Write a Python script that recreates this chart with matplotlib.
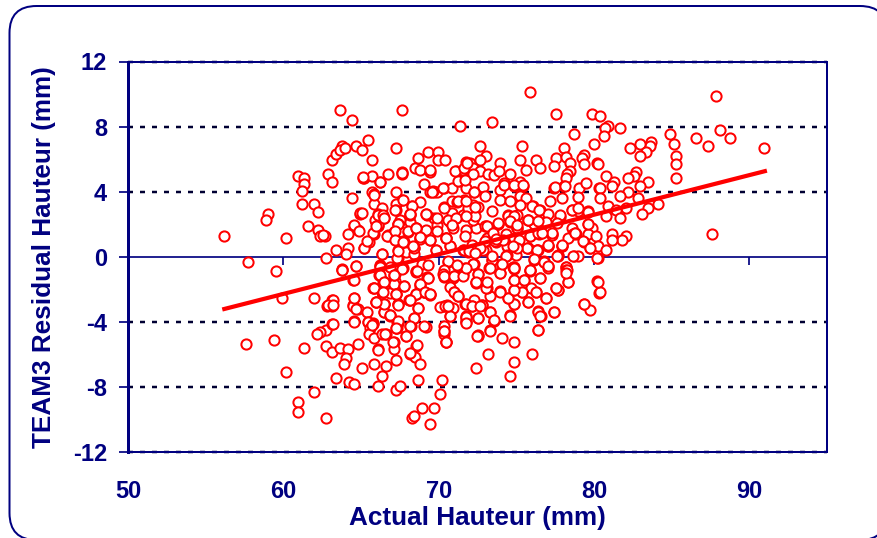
import matplotlib
matplotlib.use("Agg")
import matplotlib.pyplot as plt
from matplotlib.patches import FancyBboxPatch

plt.rcParams["axes.unicode_minus"] = False

# points, (actual hauteur, residual), grouped by area
left_tail = [
    (56.2, 1.29), (57.75, -0.33), (59.03, 2.64), (58.88, 2.27), (60.17, 1.17), (59.5, -0.9),
    (60.97, 4.97), (61.33, 4.85), (61.33, 4.48), (61.2, 4.07), (61.2, 3.25), (61.97, 3.25),
    (62.25, 2.76), (61.59, 1.9), (62.25, 1.66), (62.36, 1.29), (62.68, 1.29), (63.39, 0.43),
    (62.75, -0.06), (64.16, 0.55), (64.03, 0.18), (63.78, -0.76), (64.68, -0.55), (62.88, 5.09),
    (63.13, 4.6), (63.13, 5.95), (63.39, 6.32), (63.78, 6.81), (63.65, 6.56), (63.97, 6.69),
    (63.65, 9.02), (64.42, 8.4), (65.45, 7.18), (64.68, 6.81), (65.06, 6.56), (65.71, 5.95),
    (59.91, -2.56), (61.97, -2.52), (63.13, -2.66), (62.83, -3.03), (63.13, -3.03),
    (62.75, -4.48), (62.36, -4.6), (62.15, -4.72), (63.13, -4.11), (57.6, -5.38), (59.4, -5.09),
    (61.33, -5.58), (60.17, -7.07), (61.97, -8.3), (60.97, -8.94), (60.97, -9.55), (62.75, -9.92),
]
upper_mid = [
    (67.25, 6.69), (67.64, 9.02), (64.42, 3.62), (64.94, 2.64), (64.55, 1.9), (64.83, 1.66),
    (64.16, 1.41), (65.84, 1.41), (65.45, 0.92), (65.19, 0.55), (66.35, 0.18), (65.1, 4.85),
    (65.2, 4.85), (65.71, 4.97), (66.22, 4.6), (66.74, 5.09), (65.71, 3.99), (65.84, 3.87),
    (65.84, 3.25), (66.35, 3.0), (66.1, 2.64), (66.48, 2.39), (65.97, 2.15), (66.1, 1.9),
    (66.74, 1.29), (67.25, 3.99), (67.64, 3.5), (67.25, 3.25), (67.25, 2.88), (68.28, 3.13),
    (68.8, 3.37), (69.06, 4.48), (69.45, 3.99), (69.7, 3.99), (69.87, 3.99), (68.48, 5.46),
    (68.8, 5.34), (69.45, 5.21), (68.69, 6.07), (69.31, 6.44), (69.96, 6.44), (69.96, 5.95),
    (67.64, 5.21), (67.64, 5.1), (68.15, 2.64), (69.18, 2.64), (69.7, 2.39), (67.51, 2.27),
    (67.38, 2.02), (68.15, 2.15), (67.12, 1.53), (68.03, 1.53), (68.56, 1.78), (69.18, 1.66),
    (68.8, 1.17), (69.45, 1.04), (67.25, 1.04), (67.77, 0.92), (67.38, 0.43), (68.41, 0.55),
    (67.38, -0.06), (67.9, 0.31), (68.41, 0.18), (69.83, 0.43), (70.41, 5.96), (69.44, 5.34),
    (71.09, 5.24), (70.34, 4.22), (70.88, 4.22), (71.37, 4.63), (70.34, 3.03), (70.84, 3.4),
    (71.16, 3.34), (69.66, 4.07), (64.57, 1.93), (64.89, 1.6), (65.9, 2.27), (66.12, 1.97),
    (66.76, 1.35), (67.4, 2.01), (68.05, 1.56), (68.54, 1.76), (69.87, 1.97), (70.73, 2.17),
    (66.12, 2.58), (69.23, 2.58), (62.57, 1.35), (65.54, 0.9), (65.79, 1.45), (67.72, 0.94),
    (68.8, 1.1), (69.44, 1.05), (70.47, 1.15), (70.73, 0.64), (68.41, 0.53),
]
upper_right = [
    (73.42, 8.31), (77.54, 8.78), (79.9, 8.78), (80.39, 8.68), (78.72, 7.55), (80.01, 6.94),
    (72.67, 6.82), (75.35, 6.82), (78.08, 6.67), (73.05, 6.2), (71.77, 5.85), (72.02, 5.75),
    (72.67, 5.96), (73.95, 5.75), (75.24, 5.96), (76.27, 5.96), (77.56, 6.06), (78.2, 6.16),
    (79.36, 6.26), (79.21, 6.06), (80.18, 5.75), (79.36, 5.71), (78.46, 5.75), (77.43, 5.59),
    (76.53, 5.45), (75.63, 5.34), (71.59, 5.34), (72.2, 5.45), (72.67, 5.24), (72.2, 5.1),
    (73.2, 5.1), (73.57, 5.04), (73.91, 5.24), (74.6, 5.1), (78.46, 5.24), (78.29, 5.1),
    (78.2, 4.83), (74.21, 4.52), (74.86, 4.36), (75.24, 4.57), (75.46, 4.36), (71.77, 4.22),
    (72.28, 4.01), (72.84, 4.28), (73.95, 4.11), (77.43, 4.22), (78.07, 4.36), (79.06, 4.22),
    (79.49, 4.52), (80.35, 4.22), (72.99, 3.71), (73.95, 3.5), (74.6, 3.4), (75.24, 3.71),
    (75.63, 3.6), (77.93, 3.6), (79.0, 3.66), (77.17, 3.4), (76.06, 3.09), (76.53, 2.89),
    (77.07, 2.64), (72.56, 3.05), (71.92, 2.89), (73.42, 2.79), (74.49, 2.54), (75.03, 2.58),
    (77.82, 2.44), (78.57, 2.85), (79.0, 2.79), (79.64, 2.79), (75.24, 3.2), (71.64, 3.5),
    (72.24, 3.2), (75.88, 10.14), (71.38, 8.04), (80.91, 8.04), (80.71, 7.89), (81.68, 7.91),
    (80.65, 7.42), (84.9, 7.55), (85.15, 6.93), (86.57, 7.3), (88.12, 7.79), (88.76, 7.3),
    (87.34, 6.81), (90.95, 6.69), (87.84, 9.88), (83.65, 7.06), (83.61, 6.81), (82.97, 6.93),
    (82.32, 6.69), (83.35, 6.44), (82.97, 6.2), (85.28, 6.2), (85.28, 5.71), (85.28, 4.85),
    (80.26, 5.71), (80.78, 4.97), (82.71, 5.21), (82.58, 4.97), (82.19, 4.85), (81.29, 4.6),
    (81.16, 4.36), (83.48, 4.6), (82.97, 4.36), (80.39, 4.23), (82.19, 3.99), (81.68, 3.74),
    (82.84, 3.62), (80.39, 3.62), (84.12, 3.25), (83.48, 3.0), (83.09, 2.64), (82.06, 3.0),
    (80.91, 3.13), (81.42, 2.88), (81.68, 2.39), (80.78, 2.52), (79.62, 2.76), (78.59, 2.88),
]
centre_right = [
    (74.47, 2.52), (74.85, 2.52), (73.82, 2.02), (74.6, 2.15), (75.76, 2.27), (75.03, 1.78),
    (74.34, 1.41), (76.14, 2.02), (76.91, 2.15), (77.3, 1.41), (76.44, 1.41), (75.88, 1.29),
    (74.85, 1.17), (73.05, 1.9), (72.41, 1.78), (71.76, 1.66), (71.12, 2.39), (70.73, 2.15),
    (70.9, 1.78), (70.48, 1.17), (72.24, 2.27), (79.62, 2.02), (79.88, 1.78), (78.59, 1.78),
    (78.67, 1.41), (78.85, 1.41), (79.62, 1.41), (80.13, 1.29), (79.36, 0.92), (81.16, 1.41),
    (82.06, 1.29), (81.81, 1.04), (81.16, 1.04), (87.6, 1.41), (79.75, 0.55), (80.26, 0.67),
    (80.78, 0.43), (80.26, -0.06), (78.72, 0.06), (78.97, 0.06), (77.94, 0.67), (77.04, 0.67),
    (77.69, 0.06), (76.78, -0.31), (76.14, -0.18), (75.76, 0.55), (76.4, 0.43), (74.98, 0.12),
    (74.34, 0.06), (74.47, 0.55), (73.44, -0.18), (73.7, 0.92), (72.99, 0.92), (73.05, 0.43),
    (72.28, -0.43), (71.91, 0.31), (71.59, 0.43), (70.73, 0.67), (70.6, -0.31), (78.2, -0.63),
    (74.85, -0.6), (73.31, -0.6), (72.99, 1.86), (73.85, 2.01), (75.78, 2.27), (75.03, 1.76),
    (73.1, 1.15), (72.13, 0.74), (71.64, 0.43), (71.98, 0.33), (72.88, 0.43), (73.63, 0.94),
    (74.38, 0.64), (75.14, 1.05), (75.89, 1.25), (76.42, 1.45), (75.78, 0.53), (76.32, 0.43),
    (77.07, 0.64), (77.93, 0.64), (77.28, 1.35), (78.35, 1.15), (78.78, 1.45), (79.32, 0.94),
    (79.75, 0.53), (79.64, 2.01), (77.71, 0.08), (80.18, -0.08), (74.38, 0.08), (73.42, -0.18),
    (72.24, -0.45), (71.7, -0.69), (71.49, -1.14), (72.56, -1.06), (73.27, -0.69), (74.06, -0.45),
    (73.95, -1.0), (74.81, -0.65), (74.86, -1.41), (75.5, -1.41), (75.89, -0.8), (76.53, -1.31),
    (76.79, -0.28), (77.07, -0.59), (78.2, -0.65), (78.2, -0.8), (78.31, -1.55), (77.56, -1.92),
    (77.71, -2.02), (76.92, -2.54), (76.27, -2.17), (75.93, -1.92), (75.35, -2.17), (74.86, -2.02),
    (73.95, -2.13), (74.49, -2.54), (73.31, -2.43), (73.1, -1.92), (72.41, -1.61), (75.78, -2.78),
    (74.86, -2.9), (74.6, -3.6), (76.42, -3.35), (76.57, -3.66), (77.43, -3.39), (79.36, -2.9),
    (79.75, -3.25), (80.22, -1.51), (80.29, -2.23), (72.77, -2.99), (72.13, -2.99), (71.7, -2.9),
    (72.28, -2.64), (73.31, -3.39), (73.57, -3.93), (72.56, -3.76), (71.77, -3.66), (71.77, -4.01),
]
centre_left = [
    (63.75, -0.8), (64.68, -0.59), (64.51, -1.41), (65.19, 0.53), (66.22, -0.49), (66.33, 0.17),
    (66.18, -1.1), (66.44, -1.51), (65.79, -1.92), (66.33, -2.17), (67.08, -1.68), (67.77, -1.82),
    (67.25, -2.29), (66.48, -2.9), (65.97, -2.78), (67.36, -2.9), (68.11, -2.64), (68.54, -2.29),
    (68.8, -1.82), (69.06, -2.17), (69.44, -2.33), (68.54, -0.9), (69.27, -1.27), (67.68, -0.69),
    (67.19, -1.06), (67.34, -0.08), (67.4, 0.37), (69.83, 0.43), (68.9, -0.45), (69.33, -0.49),
    (70.62, -0.28), (70.34, -0.8), (70.34, -1.27), (70.94, -1.31), (70.73, -1.88), (71.16, -2.33),
    (70.56, -2.99), (70.34, -3.05), (70.73, -3.66), (70.34, -4.27), (70.34, -4.75), (64.55, -2.54),
    (63.18, -2.64), (62.9, -2.99), (63.18, -2.99), (64.51, -2.99), (64.83, -3.19), (65.36, -3.39),
    (64.55, -3.97), (65.47, -4.01), (65.79, -4.07), (63.18, -4.13), (66.87, -3.6), (66.48, -3.39),
    (68.41, -3.76), (68.2, -4.27), (67.3, -4.0), (67.34, -4.38), (69.18, -4.34), (66.22, -0.55),
    (66.87, -0.65), (63.78, -0.84), (64.55, -1.45), (67.19, -1.51), (66.87, -2.23), (65.84, -1.9),
    (66.48, -1.53), (67.12, -1.66), (68.56, -2.27), (69.06, -2.15), (69.31, -1.29), (68.56, -0.92),
    (67.12, -1.12), (68.8, -1.7), (70.08, -3.09), (66.35, -2.15), (67.25, -2.27), (69.45, -2.27),
    (68.15, -2.66), (67.38, -2.88), (66.48, -2.88), (65.97, -2.76), (68.67, -3.17), (66.48, -3.39),
    (66.87, -3.66), (64.51, -3.03), (64.68, -3.23), (64.55, -2.52),
]
lower_left = [
    (64.55, -3.99), (65.45, -3.99), (65.75, -4.15), (65.58, -4.4), (65.54, -4.72), (65.84, -5.01),
    (66.35, -4.72), (66.61, -4.72), (67.25, -4.36), (67.38, -4.05), (68.15, -4.25), (67.9, -4.85),
    (68.41, -3.78), (69.06, -4.23), (62.75, -5.46), (63.13, -5.87), (63.65, -5.58), (64.16, -5.7),
    (64.81, -5.34), (64.03, -6.2), (63.91, -6.6), (65.06, -6.81), (66.1, -5.7), (65.84, -6.6),
    (66.61, -6.71), (66.35, -7.32), (67.12, -5.21), (67.12, -5.7), (67.25, -6.36), (68.54, -5.48),
    (68.15, -5.95), (68.48, -6.16), (68.8, -6.6), (68.67, -7.59), (63.39, -7.44), (64.25, -7.71),
    (64.55, -7.83), (66.1, -7.93), (67.25, -8.18), (67.51, -7.93), (68.28, -9.92), (68.41, -9.79),
    (68.93, -9.3), (69.7, -9.3), (69.45, -10.29), (70.21, -7.59), (70.09, -8.45), (70.47, -5.26),
]
lower_right = [
    (72.41, -6.81), (74.6, -7.32), (73.2, -6.0), (74.85, -6.48), (76.01, -6.0), (74.08, -4.97),
    (74.85, -5.21), (72.56, -4.87), (73.31, -4.48), (76.4, -4.48), (70.48, -5.21), (70.35, -4.56),
    (71.76, -3.95), (71.76, -3.74), (72.56, -3.74), (73.31, -3.37), (73.57, -3.86), (74.6, -3.64),
    (76.4, -3.37), (76.53, -3.66), (77.43, -3.37), (79.36, -2.88), (80.39, -2.15), (80.26, -1.53),
    (78.33, -1.53), (77.71, -2.07), (77.56, -1.9), (76.91, -2.52), (76.27, -2.15), (75.76, -2.76),
    (74.85, -2.88), (74.47, -2.52), (75.37, -2.15), (74.85, -2.07), (73.95, -2.15), (73.05, -1.9),
    (72.79, -2.96), (72.15, -3.0), (71.76, -2.88), (71.25, -2.41), (70.99, -2.15), (70.6, -3.03),
    (70.9, -3.13), (70.73, -3.66), (70.41, -3.03), (72.41, -1.53), (76.53, -1.29), (74.85, -1.45),
    (75.5, -1.45), (78.24, -0.84), (73.09, -1.53), (70.99, -1.19), (72.56, -1.08), (73.95, -0.98),
    (74.85, -0.78), (75.88, -0.88), (77.06, -0.67), (71.55, -1.08), (70.3, -1.08), (73.3, -4.58),
    (72.56, -4.83), (76.42, -4.48),
]
# second pass over the dense middle
dense_upper = [
    (64.94, 2.68), (65.86, 3.81), (66.44, 2.58), (67.19, 2.89), (68.15, 2.58), (70.84, 2.68),
    (69.87, 2.38), (71.59, 2.58), (72.35, 2.48), (65.15, 4.89), (66.23, 4.59), (67.62, 5.14),
    (71.27, 4.63), (70.3, 4.22), (69.55, 4.01), (71.7, 4.73), (71.06, 5.24), (71.64, 5.45),
    (71.81, 5.75), (67.69, 3.5), (68.27, 3.13), (65.05, 2.68), (66.48, 2.38), (68.16, 2.64),
    (69.19, 2.64), (70.35, 2.99), (71.23, 3.4), (71.91, 2.99), (71.76, 3.4), (70.63, 2.27),
    (71.12, 2.38), (70.84, 1.97), (71.76, 2.48), (65.97, 1.9), (67.41, 2.03), (68.55, 1.76),
    (69.88, 1.56), (66.66, 1.29), (67.19, 1.56), (67.19, 1.05), (67.73, 0.88), (68.8, 1.21),
    (70.48, 1.15), (65.37, 0.94), (71.7, 1.25), (68.37, 0.63), (72.28, 4.01), (74.21, 4.42),
    (74.85, 4.42), (75.45, 4.42), (75.99, 3.13), (77.49, 4.28), (78.14, 4.32), (72.34, 3.05),
    (76.48, 2.89), (74.6, 2.17), (73.84, 2.07), (75.78, 2.27), (76.42, 2.17), (77.81, 2.58),
    (79.0, 2.99), (73.09, 1.87), (77.6, 2.07), (77.28, 1.46), (78.78, 1.46), (73.52, 1.46),
    (75.02, 1.97), (76.63, 1.46), (74.17, 1.0), (73.69, 1.09), (72.99, 0.94), (77.06, 0.74),
    (77.92, 0.74), (75.67, 0.54), (75.02, 0.54), (74.81, 0.64), (76.31, 0.43), (72.66, 0.54),
]
dense_lower = [
    (74.34, 0.06), (73.41, 0.06), (76.14, -0.14), (77.64, 0.06), (76.78, -0.34), (78.67, 0.06),
    (72.23, -0.43), (73.31, -0.69), (74.06, -0.43), (74.85, -0.69), (75.88, -0.8), (77.06, -0.59),
    (78.2, -1.0), (72.34, 0.23), (66.22, -0.6), (67.62, -0.74), (68.58, -0.9), (69.34, -1.31),
    (66.22, -1.15), (67.12, -1.15), (66.48, -1.56), (67.77, -1.82), (68.8, -1.68), (65.84, -1.93),
    (66.4, -2.17), (67.25, -2.29), (68.54, -2.29), (69.12, -2.17), (69.44, -2.29), (68.16, -2.64),
    (67.4, -2.95), (66.48, -2.91), (65.97, -2.79), (68.69, -3.15), (66.87, -3.6), (67.4, -3.97),
    (68.16, -4.28), (67.25, -4.38), (65.69, -4.18), (66.55, -4.75), (67.9, -4.85), (67.08, -5.24),
    (68.58, -5.45), (66.12, -5.71), (68.15, -5.92), (70.99, -2.17), (71.27, -2.44), (70.34, -1.21),
    (70.99, -1.21), (71.55, -1.21), (71.76, -0.7), (71.2, -0.53), (72.4, -1.56), (70.62, -3.05),
    (70.34, -4.55), (70.47, -5.24), (71.76, -3.73), (71.76, -4.07), (72.12, -3.05), (72.66, -3.05),
    (72.45, -4.89),
]
trend_x = [56.2, 91.0]
trend_y = [-3.21, 5.26]

x_ticks = [50, 60, 70, 80, 90]
y_ticks = [-12, -8, -4, 0, 4, 8, 12]
grid_levels = [-12, -8, -4, 4, 8, 12]

NAVY = "#000080"
FONT = "Liberation Sans"
PX = 72 / 100  # points per pixel at dpi 100

fig = plt.figure(figsize=(8.77, 5.38), dpi=100)

# rounded frame, runs off the right and bottom of the picture
bg = fig.add_axes([0, 0, 1, 1])
bg.set_xlim(0, 877)
bg.set_ylim(538, 0)
bg.axis("off")
bg.add_patch(FancyBboxPatch((9.5, 6), 877.5, 534, boxstyle="round,pad=0,rounding_size=27",
                            fc="white", ec=NAVY, lw=2 * PX))

ax = fig.add_axes([128 / 877, 1 - 452 / 538, 699 / 877, 390.5 / 538])
ax.patch.set_alpha(0)
ax.set_xlim(50, 95)
ax.set_ylim(-12, 12)

for level in grid_levels:
    ax.axhline(level, color="#000033", lw=2.5 * PX, ls=(0, (2.0, 2.8)), zorder=1, clip_on=False)

points = (left_tail + upper_mid + upper_right + centre_right + centre_left + lower_left + lower_right
          + dense_upper + dense_lower)
ax.scatter([p[0] for p in points], [p[1] for p in points], s=(10.2 * PX) ** 2, facecolor="white",
           edgecolor="#ff0000", linewidth=2.0 * PX, zorder=3)
ax.plot(trend_x, trend_y, color="#ff0000", lw=4.2 * PX, zorder=4)

# x ticks hang off the zero line
zero_axis = ax.secondary_xaxis(0.5)
zero_axis.set_alignment("bottom")
zero_axis.set_xticks(x_ticks[1:] + [95])
zero_axis.tick_params(axis="x", direction="out", length=8 * PX, width=1.7 * PX, color=NAVY, labelbottom=False)
zero_axis.set_zorder(0.5)
zero_axis.spines["bottom"].set_color(NAVY)
zero_axis.spines["bottom"].set_linewidth(1.7 * PX)

ax.set_xticks(x_ticks)
ax.set_yticks(y_ticks)
ax.tick_params(axis="x", length=0, pad=28 * PX, labelsize=17, labelcolor=NAVY)
ax.tick_params(axis="y", length=9 * PX, width=1.7 * PX, color=NAVY, pad=12 * PX, labelsize=17, labelcolor=NAVY)
for label in ax.get_xticklabels() + ax.get_yticklabels():
    label.set_fontfamily(FONT)
    label.set_fontweight("bold")

for side in ax.spines:
    ax.spines[side].set_color(NAVY)
    ax.spines[side].set_linewidth(2 * PX)
    ax.spines[side].set_zorder(2)
ax.spines["left"].set_linewidth(3 * PX)

fig.text(477 / 877, 1 - 518 / 538, "Actual Hauteur (mm)", ha="center", va="center", fontsize=18.8,
         fontweight="bold", family=FONT, color=NAVY)
fig.text(44 / 877, 1 - 257 / 538, "TEAM3 Residual Hauteur (mm)", ha="center", va="center", rotation=90,
         fontsize=18.8, fontweight="bold", family=FONT, color=NAVY)

fig.savefig("out.png", dpi=100)
